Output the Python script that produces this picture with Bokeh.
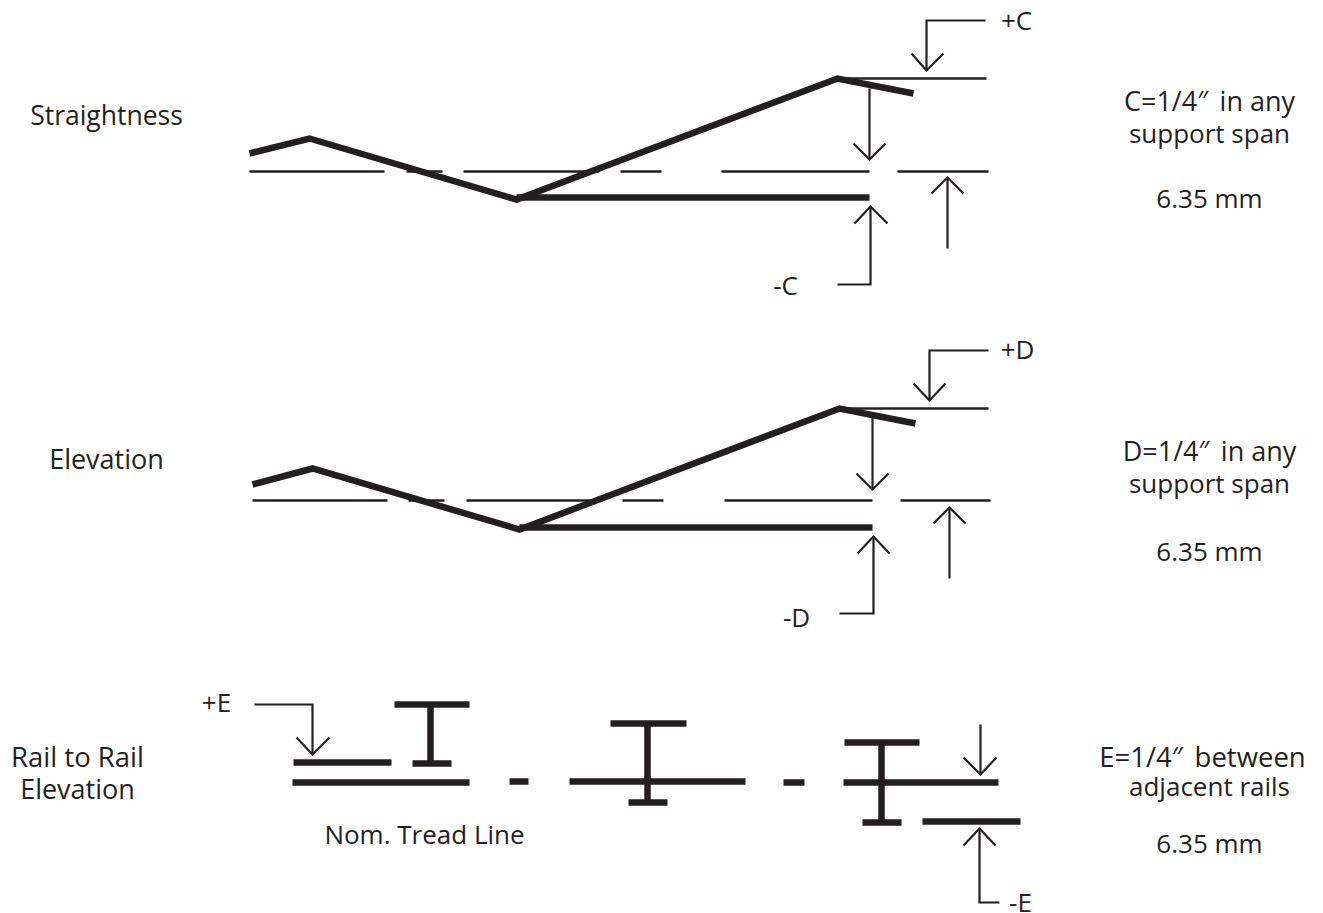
from bokeh.plotting import figure
from bokeh.models import Range1d, ColumnDataSource
from bokeh.embed import file_html
from bokeh.resources import INLINE
from bokeh.core.properties import value

INK = "#231f20"
FONT = "Open Sans"

# --- thick profile lines (x list, y list) ---
thick_xs = [
    [249, 309, 516, 837, 913], [516, 869],
    [252, 312, 519, 839, 915], [519, 872],
    [293, 391], [292, 469], [394, 469], [412, 451], [430, 430],
    [509, 528], [569, 745], [610, 686], [628, 667], [647, 647],
    [783, 804], [843, 998], [844, 919], [862, 901], [881, 881],
    [922, 1020],
]
thick_ys = [
    [153, 138, 199, 78, 93], [197, 197],
    [484, 468, 529, 408, 423], [527, 527],
    [762, 762], [782, 782], [704, 704], [763, 763], [704, 763],
    [781, 781], [781, 781], [723, 723], [802, 802], [723, 802],
    [782, 782], [782, 782], [742, 742], [822, 822], [742, 822],
    [821, 821],
]

# --- thin reference lines ---
thin_xs = [
    [837, 986], [249, 384], [406, 442], [463, 598], [620, 661], [721, 869], [897, 988],
    [839, 988], [252, 387], [408, 444], [466, 601], [622, 663], [724, 872], [900, 990],
]
thin_ys = [
    [78, 78], [171, 171], [171, 171], [171, 171], [171, 171], [171, 171], [171, 171],
    [408, 408], [500, 500], [500, 500], [500, 500], [500, 500], [500, 500], [500, 500],
]

# --- dimension arrows: shaft then open head ---
arrow_xs = [
    [985, 926, 926], [911, 926, 943],
    [869, 869], [853, 869, 885],
    [947, 947], [931, 947, 963],
    [837, 870, 870], [854, 870, 887],
    [988, 929, 929], [913, 929, 945],
    [872, 872], [856, 872, 888],
    [949, 949], [933, 949, 965],
    [839, 873, 873], [857, 873, 889],
    [254, 312, 312], [296, 312, 329],
    [980, 980], [963, 980, 996],
    [999, 979, 979], [963, 979, 995],
]
arrow_ys = [
    [20, 20, 70], [53, 70, 53],
    [88, 159], [143, 159, 143],
    [248, 177], [193, 177, 193],
    [284, 284, 206], [223, 206, 223],
    [350, 350, 400], [383, 400, 383],
    [416, 489], [473, 489, 473],
    [578, 507], [523, 507, 523],
    [613, 613, 536], [553, 536, 553],
    [704, 704, 754], [737, 754, 737],
    [724, 774], [757, 774, 757],
    [902, 902, 828], [845, 828, 845],
]

# --- labels ---
label_text = [
    "+C", "-C", "+D", "-D", "+E", "-E",
    "Straightness", "Elevation", "Rail to Rail", "Elevation", "Nom. Tread Line",
    "C=1/4\u2033\u2009 in any", "support span", "6.35 mm",
    "D=1/4\u2033\u2009 in any", "support span", "6.35 mm",
    "E=1/4\u2033\u2009 between", "adjacent rails", "6.35 mm",
]
label_x = [
    1016, 785, 1017, 796, 216, 1020,
    106, 106, 77, 77, 424,
    1209, 1209, 1209,
    1209, 1209, 1209,
    1202, 1209, 1209,
]
label_y = [
    19, 284, 348, 616, 701, 901,
    114, 458, 756, 788, 833,
    100, 132, 197,
    450, 482, 550,
    756, 785, 842,
]
label_size = [
    "26px", "26px", "26px", "26px", "26px", "26px",
    "26.5px", "27px", "27.5px", "27px", "26px",
    "27px", "26px", "26px",
    "27px", "26px", "26px",
    "27.5px", "26px", "26px",
]

p = figure(width=1323, height=913, output_backend="svg", toolbar_location=None,
           x_range=Range1d(0, 1323), y_range=Range1d(913, 0),
           min_border=0, outline_line_color=None, background_fill_color="white",
           border_fill_color="white")
p.xaxis.visible = False
p.yaxis.visible = False
p.grid.visible = False

p.multi_line(thin_xs, thin_ys, line_color=INK, line_width=2.5, line_cap="butt")
p.multi_line(thick_xs, thick_ys, line_color=INK, line_width=6.5, line_cap="butt", line_join="miter")
p.multi_line(arrow_xs, arrow_ys, line_color=INK, line_width=2.2, line_cap="butt", line_join="miter")

src = ColumnDataSource(dict(x=label_x, y=label_y, t=label_text, s=label_size))
p.text("x", "y", text="t", source=src, text_color=INK, text_font=value(FONT),
       text_font_size="s", text_align="center", text_baseline="middle")

open("out.html", "w").write(file_html(p, INLINE))
